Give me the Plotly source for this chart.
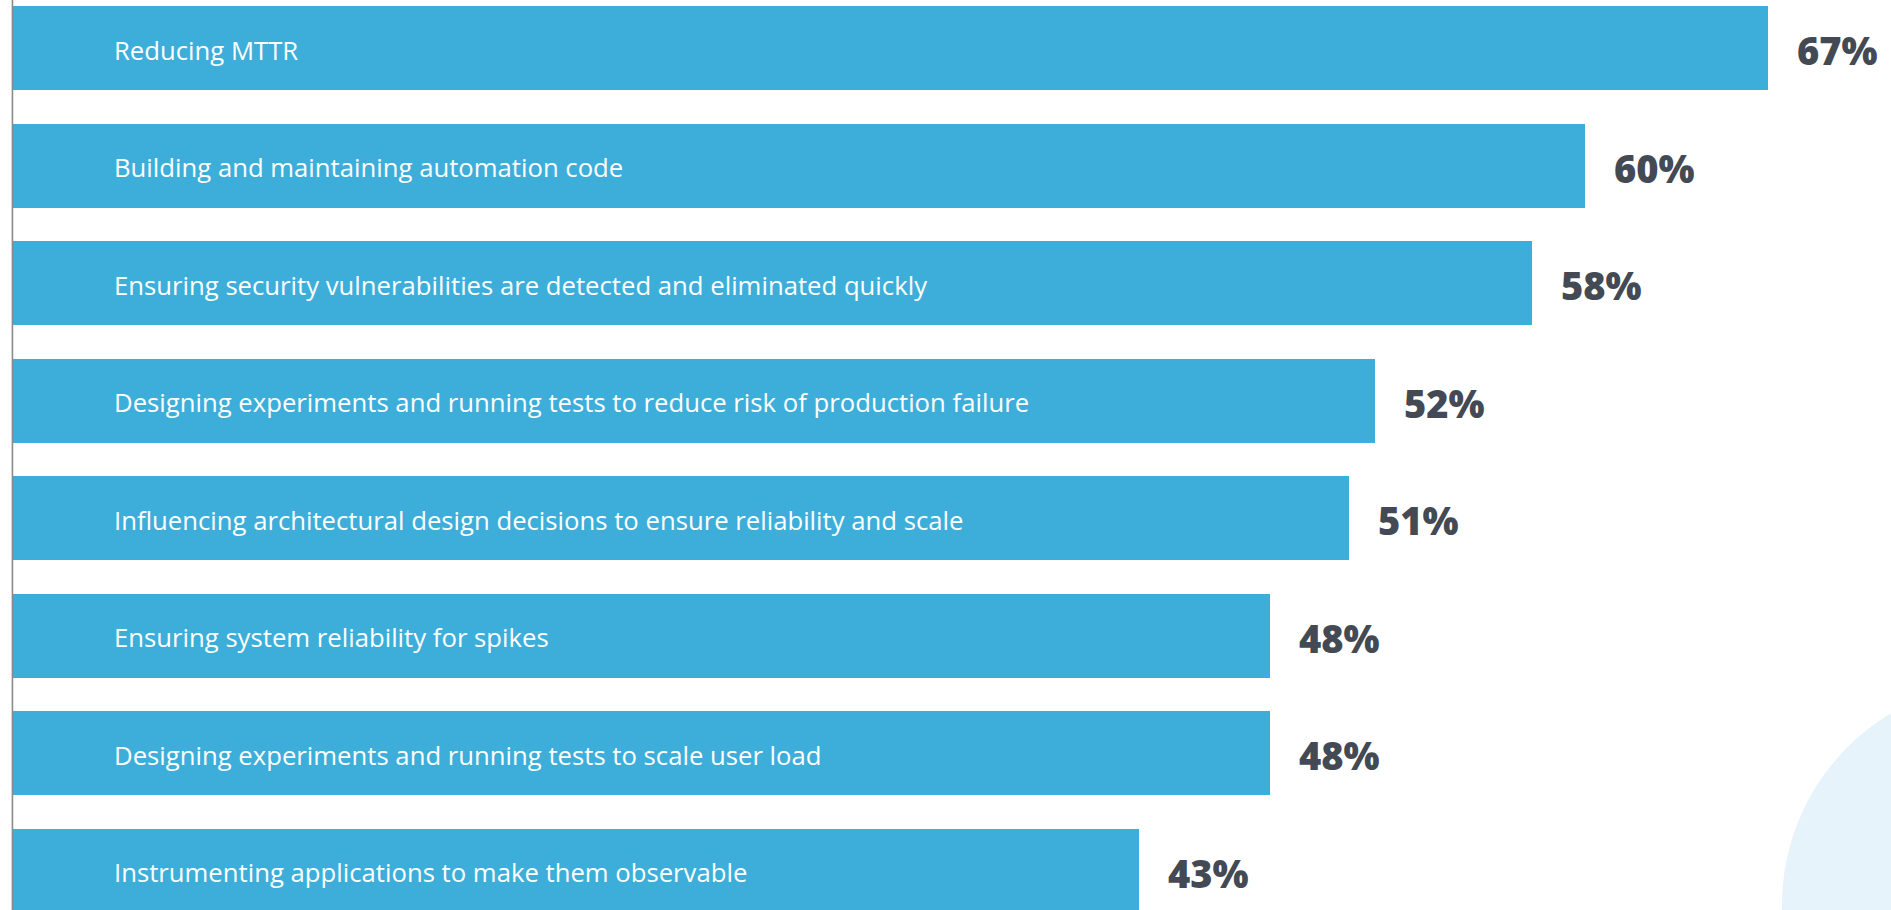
import plotly.graph_objects as go

categories = [
    "Reducing MTTR",
    "Building and maintaining automation code",
    "Ensuring security vulnerabilities are detected and eliminated quickly",
    "Designing experiments and running tests to reduce risk of production failure",
    "Influencing architectural design decisions to ensure reliability and scale",
    "Ensuring system reliability for spikes",
    "Designing experiments and running tests to scale user load",
    "Instrumenting applications to make them observable",
]
values = [67, 60, 58, 52, 51, 48, 48, 43]
value_labels = ["67%", "60%", "58%", "52%", "51%", "48%", "48%", "43%"]

BAR_COLOR = "#3caed9"
LABEL_COLOR = "#434a54"

fig = go.Figure()

fig.add_trace(go.Bar(
    x=values,
    y=categories,
    orientation="h",
    marker=dict(color=BAR_COLOR, line=dict(width=0)),
    width=0.715,
    hoverinfo="skip",
))

annotations = []
for cat, val, lab in zip(categories, values, value_labels):
    # category name inside the bar
    annotations.append(dict(
        x=0.0528, xref="paper", y=cat, yref="y",
        text=cat, showarrow=False, xanchor="left", yanchor="middle",
        yshift=-2,
        font=dict(family="Open Sans", size=25.7, color="white"),
    ))
    # percentage just past the bar end
    annotations.append(dict(
        x=val, xref="x", y=cat, yref="y",
        text=lab, showarrow=False, xanchor="left", yanchor="middle",
        xshift=27, yshift=-2,
        font=dict(family="Open Sans", size=38, color=LABEL_COLOR, weight=800),
    ))

fig.update_layout(
    width=1891, height=910,
    margin=dict(l=13, r=0, t=0, b=0),
    paper_bgcolor="white",
    plot_bgcolor="rgba(0,0,0,0)",
    showlegend=False,
    bargap=0,
    annotations=annotations,
    xaxis=dict(range=[0, 71.7], visible=False, fixedrange=True),
    yaxis=dict(
        type="category",
        range=[7.334, -0.4106],
        showticklabels=False,
        showgrid=False,
        zeroline=False,
        showline=False,
        fixedrange=True,
    ),
    shapes=[
        # soft decorative circle in the lower right corner
        dict(type="circle", xref="paper", yref="paper",
             x0=(1782 - 13) / 1878, x1=(2228 - 13) / 1878,
             y0=(910 - 1128) / 910, y1=(910 - 682) / 910,
             fillcolor="#e6f3fa", line=dict(width=0), layer="below"),
        # left baseline
        dict(type="line", xref="paper", yref="paper",
             x0=-0.0003, x1=-0.0003, y0=0, y1=1,
             line=dict(color="#8a8a8a", width=1.6)),
    ],
)

fig.write_html("out.html")
